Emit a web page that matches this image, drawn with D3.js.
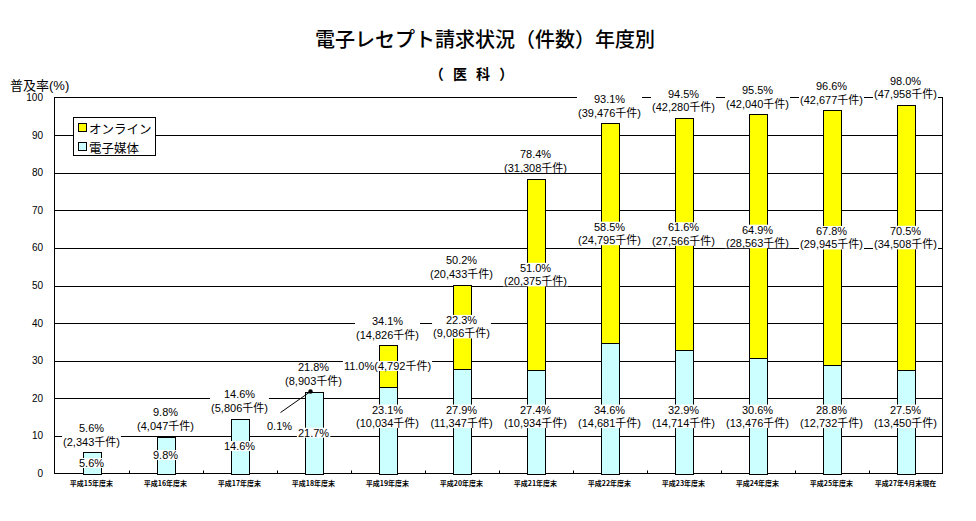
<!DOCTYPE html>
<html><head><meta charset="utf-8">
<script src="https://cdn.jsdelivr.net/npm/d3@7"></script>
<style>
body{margin:0;background:#fff}
svg{display:block}
text{font-family:"Liberation Sans","Noto Sans CJK JP",sans-serif;fill:#000}
</style>
</head><body>
<svg id="chart" width="976" height="521"></svg>
<script>
const categories = ["平成15年度末","平成16年度末","平成17年度末","平成18年度末","平成19年度末","平成20年度末","平成21年度末","平成22年度末","平成23年度末","平成24年度末","平成25年度末","平成27年4月末現在"];
const mediaPct  = [5.6, 9.8, 14.6, 21.7, 23.1, 27.9, 27.4, 34.6, 32.9, 30.6, 28.8, 27.5];
const onlinePct = [0, 0, 0, 0.1, 11.0, 22.3, 51.0, 58.5, 61.6, 64.9, 67.8, 70.5];
const totalPct  = [5.6, 9.8, 14.6, 21.8, 34.1, 50.2, 78.4, 93.1, 94.5, 95.5, 96.6, 98.0];
const totalCount  = ["2,343","4,047","5,806","8,903","14,826","20,433","31,308","39,476","42,280","42,040","42,677","47,958"];
const mediaCount  = [null,null,null,null,"10,034","11,347","10,934","14,681","14,714","13,476","12,732","13,450"];
const onlineCount = [null,null,null,null,"4,792","9,086","20,375","24,795","27,566","28,563","29,945","34,508"];
const yTicks = [0,10,20,30,40,50,60,70,80,90,100];
const seriesNames = ["オンライン","電子媒体"];
const seriesColors = ["#FFFF00","#CCFFFF"];

const svg = d3.select("#chart");
const L = 54.5, R = 942.5, T = 97.5, B = 473.5;
const x = d3.scaleBand().domain(categories).range([L, R]).padding(0);
const y = d3.scaleLinear().domain([0, 100]).range([B, T]);
const px = v => Math.round(v) + 0.5;
const bw = 18;

// title
svg.append("text").attr("x", 485).attr("y", 47).attr("text-anchor", "middle")
  .style("font-family", "'Noto Sans CJK JP'").style("font-size", "20px").style("font-weight", "500")
  .text("電子レセプト請求状況（件数）年度別");
svg.append("text").attr("x", 473).attr("y", 79).attr("text-anchor", "middle")
  .style("font-family", "'Noto Sans CJK JP'").style("font-size", "14px").style("font-weight", "bold")
  .attr("letter-spacing", "3px")
  .text("（ 医 科 ）");

// y axis title
svg.append("text").attr("x", 10).attr("y", 90).style("font-size", "13px")
  .text("普及率(%)");

// gridlines
svg.append("g").selectAll("line").data(yTicks.filter(t => t > 0 && t < 100)).join("line")
  .attr("x1", L).attr("x2", R).attr("y1", d => px(y(d))).attr("y2", d => px(y(d)))
  .attr("stroke", "#000").attr("stroke-width", 1);

// frame
svg.append("rect").attr("x", L).attr("y", T).attr("width", R - L).attr("height", B - T)
  .attr("fill", "none").attr("stroke", "#000").attr("stroke-width", 1);

// y labels
svg.append("g").selectAll("text").data(yTicks).join("text")
  .attr("x", 43).attr("y", d => y(d)).attr("text-anchor", "end").attr("dominant-baseline", "central")
  .style("font-size", "10px").text(d => d);

// x ticks (inside)
svg.append("g").selectAll("line").data(categories.slice(1)).join("line")
  .attr("x1", d => px(x(d))).attr("x2", d => px(x(d))).attr("y1", B).attr("y2", B - 3)
  .attr("stroke", "#000");

// x labels
svg.append("g").selectAll("text").data(categories).join("text")
  .attr("x", d => x(d) + x.bandwidth() / 2).attr("y", 483).attr("text-anchor", "middle")
  .attr("dominant-baseline", "central")
  .style("font-size", "7px").style("font-weight", "bold").style("font-family", "'Noto Sans CJK JP'")
  .text(d => d);

// bars
const bars = svg.append("g");
categories.forEach((c, i) => {
  const xc = x(c) + x.bandwidth() / 2;
  const bx = px(xc - bw / 2);
  const y0 = px(y(0)), y1 = px(y(mediaPct[i])), y2 = px(y(mediaPct[i] + onlinePct[i]));
  bars.append("rect").attr("x", bx).attr("y", y1).attr("width", bw).attr("height", y0 - y1)
    .attr("fill", seriesColors[1]).attr("stroke", "#000");
  if (onlinePct[i] > 0) {
    bars.append("rect").attr("x", bx).attr("y", y2).attr("width", bw).attr("height", Math.max(0, y1 - y2))
      .attr("fill", seriesColors[0]).attr("stroke", "#000");
  }
});

// labels
const lab = svg.append("g");
function label(cx, cy, lines) {
  const g = lab.append("g");
  const lh = 13.5;
  const n = lines.length;
  lines.forEach((t, k) => g.append("text").attr("x", cx)
    .attr("y", cy + (k - (n - 1) / 2) * lh).attr("text-anchor", "middle")
    .attr("dominant-baseline", "central").style("font-size", "11px").text(t));
  const bb = g.node().getBBox();
  g.insert("rect", "text").attr("x", bb.x - 1).attr("y", bb.y + 1).attr("width", bb.width + 2)
    .attr("height", bb.height - 2).attr("fill", "#fff");
}

categories.forEach((c, i) => {
  const xc = x(c) + x.bandwidth() / 2;
  const top = y(totalPct[i]);
  label(xc, top - 17.5, [totalPct[i].toFixed(1) + "%", "(" + totalCount[i] + "千件)"]);
  if (mediaCount[i]) {
    label(xc, y(15.2), [mediaPct[i].toFixed(1) + "%", "(" + mediaCount[i] + "千件)"]);
  } else {
    label(xc, y(mediaPct[i] / 2), [mediaPct[i].toFixed(1) + "%"]);
  }
  if (onlinePct[i] > 0) {
    const mid = y(mediaPct[i] + onlinePct[i] / 2);
    if (onlineCount[i] && onlinePct[i] < 15) {
      label(xc, mid, [onlinePct[i].toFixed(1) + "%(" + onlineCount[i] + "千件)"]);
    } else if (onlineCount[i]) {
      label(xc, mid, [onlinePct[i].toFixed(1) + "%", "(" + onlineCount[i] + "千件)"]);
    } else {
      const dx = xc - 3, dy = y(totalPct[i]);
      lab.append("line").attr("x1", xc - 33).attr("y1", dy + 21).attr("x2", dx).attr("y2", dy)
        .attr("stroke", "#000");
      lab.append("circle").attr("cx", dx).attr("cy", dy).attr("r", 2.2).attr("fill", "#000");
      label(xc - 34, dy + 34, [onlinePct[i].toFixed(1) + "%"]);
    }
  }
});

// legend
const lg = svg.append("g");
lg.append("rect").attr("x", 73.5).attr("y", 117.5).attr("width", 82).attr("height", 38)
  .attr("fill", "#fff").attr("stroke", "#000");
seriesNames.forEach((s, k) => {
  const cy = 128 + k * 19;
  lg.append("rect").attr("x", 78.5).attr("y", cy - 4.5).attr("width", 8).attr("height", 8)
    .attr("fill", seriesColors[k]).attr("stroke", "#000");
  lg.append("text").attr("x", 89).attr("y", cy).attr("dominant-baseline", "central")
    .style("font-size", "12.5px").style("font-family", "'Noto Sans CJK JP'").text(s);
});
</script>
</body></html>
